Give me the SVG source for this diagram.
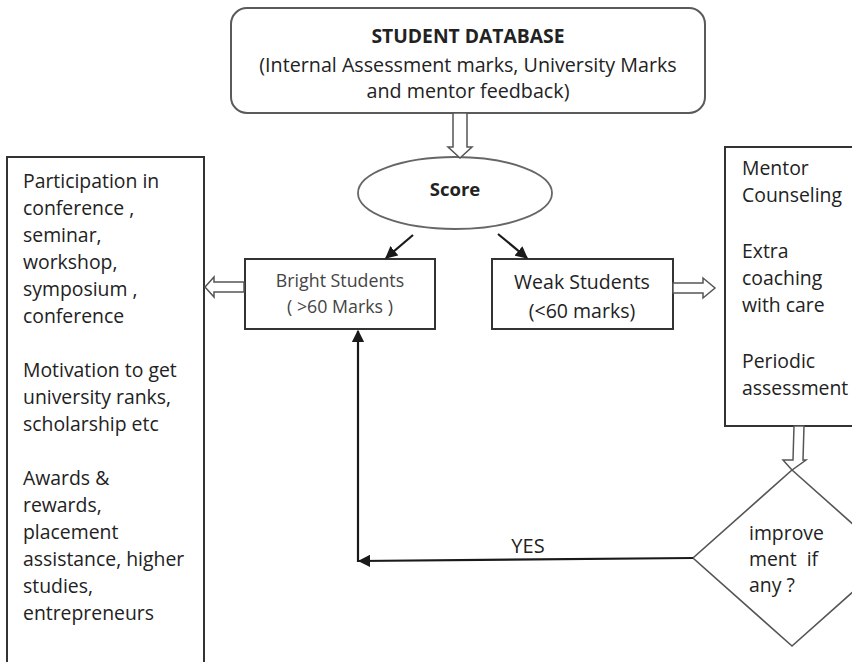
<svg xmlns="http://www.w3.org/2000/svg" width="852" height="662" viewBox="0 0 852 662">
<style>
  .box { fill: #fff; stroke: #333; stroke-width: 2; }
  .soft { fill: #fff; stroke: #5a5a5a; stroke-width: 2; }
  .hollow { fill: #fff; stroke: #555; stroke-width: 1.5; stroke-linejoin: miter; }
  .line { fill: none; stroke: #1a1a1a; stroke-width: 2.2; }
  text { font-family: "Open Sans", "Noto Sans", "Liberation Sans", sans-serif; fill: #222; }
  .t19 { font-size: 19.4px; }
  .b { font-weight: bold; }
  .mid { text-anchor: middle; }
</style>
<defs>
  <marker id="ah" viewBox="0 0 10 10" refX="9" refY="5" markerWidth="5.6" markerHeight="5.6" orient="auto" markerUnits="strokeWidth">
    <path d="M0,0 L10,5 L0,10 z" fill="#1a1a1a"/>
  </marker>
</defs>
<rect width="852" height="662" fill="#fff"/>

<g id="database">
  <rect class="soft" x="231" y="8" width="474" height="105" rx="16" ry="16"/>
  <text class="b mid" x="468" y="43" style="font-size:19.3px">STUDENT DATABASE</text>
  <text class="mid" x="468" y="72" style="font-size:19.7px">(Internal Assessment marks, University Marks</text>
  <text class="mid" x="468" y="98" style="font-size:19.7px">and mentor feedback)</text>
</g>

<g id="score">
  <ellipse cx="455" cy="193" rx="97" ry="36" fill="#fff" stroke="#666" stroke-width="1.8"/>
  <text class="b mid" x="455" y="196" style="font-size:18.5px">Score</text>
</g>

<g id="bright">
  <rect class="box" x="245" y="259" width="190" height="70"/>
  <text class="mid" x="340" y="287" style="font-size:17.8px;fill:#444">Bright Students</text>
  <text class="mid" x="340" y="313" style="font-size:17.8px;fill:#444">( &gt;60 Marks )</text>
</g>

<g id="weak">
  <rect class="box" x="492" y="259" width="181" height="70"/>
  <text class="mid" x="582" y="289" style="font-size:19.5px">Weak Students</text>
  <text class="mid" x="582" y="318" style="font-size:19.5px">(&lt;60 marks)</text>
</g>

<g id="bright-actions">
  <rect class="box" x="7" y="157" width="197" height="520"/>
  <text class="t19" x="23" y="188">Participation in</text>
  <text class="t19" x="23" y="215">conference ,</text>
  <text class="t19" x="23" y="242">seminar,</text>
  <text class="t19" x="23" y="269">workshop,</text>
  <text class="t19" x="23" y="296">symposium ,</text>
  <text class="t19" x="23" y="323">conference</text>
  <text class="t19" x="23" y="377">Motivation to get</text>
  <text class="t19" x="23" y="404">university ranks,</text>
  <text class="t19" x="23" y="431">scholarship etc</text>
  <text class="t19" x="23" y="485">Awards &amp;</text>
  <text class="t19" x="23" y="512">rewards,</text>
  <text class="t19" x="23" y="539">placement</text>
  <text class="t19" x="23" y="566">assistance, higher</text>
  <text class="t19" x="23" y="593">studies,</text>
  <text class="t19" x="23" y="620">entrepreneurs</text>
</g>

<g id="weak-actions">
  <rect class="box" x="725" y="147" width="140" height="279"/>
  <text class="t19" x="742" y="175">Mentor</text>
  <text class="t19" x="742" y="202">Counseling</text>
  <text class="t19" x="742" y="258">Extra</text>
  <text class="t19" x="742" y="285">coaching</text>
  <text class="t19" x="742" y="312">with care</text>
  <text class="t19" x="742" y="368">Periodic</text>
  <text class="t19" x="742" y="395">assessment</text>
</g>

<g id="decision">
  <polygon points="792,470 891,558 792,646 693,558" fill="#fff" stroke="#555" stroke-width="1.6"/>
  <text class="t19" x="749" y="540">improve</text>
  <text class="t19" x="749" y="566" xml:space="preserve">ment  if</text>
  <text class="t19" x="749" y="592">any ?</text>
</g>

<g id="connectors">
  <polygon class="hollow" points="453,113 453,147 448,147 460,158 472,147 467,147 467,113"/>
  <line class="line" x1="413" y1="235" x2="386" y2="258" marker-end="url(#ah)"/>
  <line class="line" x1="498" y1="234" x2="527" y2="258" marker-end="url(#ah)"/>
  <polygon class="hollow" points="244,282 214,282 214,277 205,287 214,297 214,292 244,292"/>
  <polygon class="hollow" points="673,283 703,283 703,278 715,288 703,298 703,293 673,293"/>
  <polygon class="hollow" points="794,426 793,460 783,460 792,470 806,460 803,460 804,426"/>
  <line class="line" x1="693" y1="558" x2="359" y2="561" marker-end="url(#ah)"/>
  <line class="line" x1="358" y1="562" x2="358" y2="331" marker-end="url(#ah)"/>
  <text class="mid" x="528" y="553" style="font-size:20px">YES</text>
</g>
</svg>
